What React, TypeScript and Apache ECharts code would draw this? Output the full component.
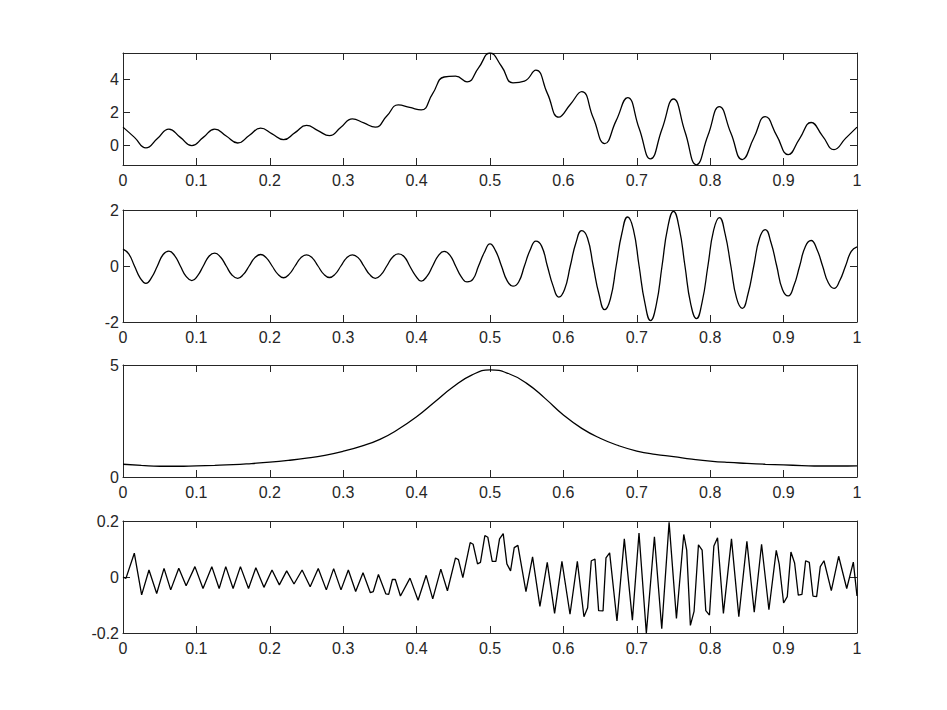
import React, { useEffect, useRef } from "react";
import * as echarts from "echarts";

// x tick labels
const X_TICKS = [0, 0.1, 0.2, 0.3, 0.4, 0.5, 0.6, 0.7, 0.8, 0.9, 1];

// Top panel: composite signal, sampled every 1/64
const SIG1 = [
  1.12, 0.5, -0.14, 0.43, 1.0, 0.5, 0.0, 0.5, 1.0, 0.58, 0.16, 0.61, 1.06, 0.71, 0.36, 0.79,
  1.22, 0.91, 0.6, 1.11, 1.62, 1.37, 1.12, 1.79, 2.46, 2.31, 2.16, 3.15, 4.15, 4.2, 3.86, 4.7,
  5.6, 4.8, 3.8, 3.9, 4.56, 3.16, 1.72, 2.49, 3.26, 1.69, 0.12, 1.51, 2.9, 1.05, -0.8, 1.01,
  2.82, 0.84, -1.16, 0.61, 2.36, 0.76, -0.84, 0.46, 1.76, 0.61, -0.54, 0.43, 1.4, 0.58, -0.24, 0.44,
  1.12,
];

// Second panel: modulated oscillation, sampled every 1/128
const SIG2 = [
  0.6, 0.43, 0, -0.43, -0.62, -0.41, 0, 0.41,
  0.53, 0.37, 0, -0.37, -0.52, -0.35, 0, 0.35,
  0.46, 0.32, 0, -0.32, -0.44, -0.3, 0, 0.3,
  0.41, 0.29, 0, -0.29, -0.42, -0.29, 0, 0.29,
  0.4, 0.29, 0, -0.29, -0.41, -0.29, 0, 0.29,
  0.4, 0.3, 0, -0.3, -0.44, -0.31, 0, 0.31,
  0.43, 0.34, 0, -0.34, -0.54, -0.37, 0, 0.37,
  0.52, 0.39, 0, -0.39, -0.57, -0.48, 0, 0.48,
  0.79, 0.53, 0, -0.53, -0.72, -0.57, 0, 0.57,
  0.89, 0.71, 0, -0.71, -1.11, -0.84, 0, 0.84,
  1.26, 1.0, 0, -1.0, -1.56, -1.17, 0, 1.17,
  1.75, 1.31, 0, -1.31, -1.95, -1.38, 0, 1.38,
  1.95, 1.35, 0, -1.35, -1.88, -1.28, 0, 1.28,
  1.73, 1.15, 0, -1.15, -1.51, -0.99, 0, 0.99,
  1.3, 0.84, 0, -0.84, -1.07, -0.7, 0, 0.7,
  0.91, 0.6, 0, -0.6, -0.8, -0.52, 0, 0.52,
  0.68,
];

// Third panel: peak, sampled every 0.025
const SIG3 = [
  0.57, 0.52, 0.48, 0.48, 0.5, 0.52, 0.55, 0.6, 0.66, 0.74, 0.84, 0.97, 1.15, 1.38, 1.68, 2.13,
  2.69, 3.36, 4.03, 4.55, 4.78, 4.62, 4.18, 3.51, 2.77, 2.17, 1.73, 1.4, 1.16, 1.01, 0.91, 0.8,
  0.71, 0.65, 0.61, 0.57, 0.54, 0.51, 0.49, 0.49, 0.5,
];

// Bottom panel: fast oscillation, vertices [t, value]
const SIG4: [number, number][] = [
  [0, 0.0], [0.004, -0.005], [0.0154, 0.085], [0.0254, -0.064], [0.0354, 0.025], [0.0459, -0.059],
  [0.0559, 0.031], [0.065, -0.046], [0.076, 0.031], [0.086, -0.031], [0.098, 0.037], [0.109, -0.041],
  [0.121, 0.037], [0.131, -0.041], [0.14, 0.037], [0.15, -0.041], [0.16, 0.037], [0.171, -0.041],
  [0.181, 0.033], [0.192, -0.037], [0.203, 0.025], [0.213, -0.028], [0.223, 0.022], [0.233, -0.025],
  [0.244, 0.025], [0.255, -0.035], [0.266, 0.03], [0.277, -0.046], [0.287, 0.03], [0.297, -0.046],
  [0.307, 0.025], [0.317, -0.052], [0.327, 0.015], [0.337, -0.056], [0.341, -0.052], [0.348, 0.009],
  [0.358, -0.06], [0.362, -0.062], [0.367, -0.009], [0.371, -0.009], [0.378, -0.068], [0.391, -0.004],
  [0.402, -0.083], [0.413, 0.006], [0.422, -0.078], [0.433, 0.028], [0.442, -0.049], [0.453, 0.068],
  [0.457, 0.062], [0.463, -0.002], [0.473, 0.123], [0.477, 0.117], [0.483, 0.047], [0.487, 0.052],
  [0.493, 0.148], [0.497, 0.142], [0.503, 0.056], [0.508, 0.056], [0.513, 0.136], [0.518, 0.155],
  [0.523, 0.047], [0.528, 0.022], [0.533, 0.105], [0.538, 0.113], [0.549, -0.052], [0.558, 0.072],
  [0.568, -0.105], [0.578, 0.052], [0.588, -0.13], [0.598, 0.056], [0.609, -0.133], [0.619, 0.056],
  [0.628, -0.142], [0.633, -0.11], [0.638, 0.058], [0.643, 0.064], [0.648, -0.12], [0.654, -0.121],
  [0.658, 0.068], [0.663, 0.086], [0.673, -0.157], [0.683, 0.136], [0.694, -0.154], [0.703, 0.157],
  [0.713, -0.201], [0.724, 0.144], [0.734, -0.185], [0.744, 0.195], [0.754, -0.148], [0.764, 0.152],
  [0.768, 0.096], [0.773, -0.173], [0.778, -0.123], [0.784, 0.115], [0.789, 0.096], [0.794, -0.12],
  [0.799, -0.136], [0.805, 0.111], [0.81, 0.14], [0.818, -0.13], [0.829, 0.136], [0.839, -0.142],
  [0.85, 0.127], [0.86, -0.126], [0.87, 0.117], [0.88, -0.117], [0.89, 0.095], [0.894, 0.046],
  [0.9, -0.093], [0.905, -0.07], [0.91, 0.089], [0.915, 0.05], [0.92, -0.065], [0.925, -0.062],
  [0.93, 0.058], [0.935, 0.052], [0.94, -0.068], [0.945, -0.07], [0.95, 0.037], [0.955, 0.058],
  [0.965, -0.049], [0.975, 0.074], [0.986, -0.041], [0.995, 0.053], [1.0, -0.068],
];

// y-axis ranges and tick values per panel
const Y_RANGES: [number, number][] = [[-1.17, 5.6], [-2, 2], [0, 5], [-0.2, 0.2]];
const Y_TICKS: number[][] = [[0, 2, 4], [-2, 0, 2], [0, 5], [-0.2, 0, 0.2]];

const AX = "#262626";
const FONT = "'Liberation Sans', Arial, Helvetica, sans-serif";

function fmt(v: number) {
  const r = Math.round(v * 10) / 10;
  return String(r);
}

export default function App() {
  const ref = useRef<HTMLDivElement>(null);
  useEffect(() => {
    if (!ref.current) return;
    const chart = echarts.init(ref.current, undefined, { renderer: "svg" });
    const tops = [53, 210, 365, 521];
    const grid = tops.map((t) => ({ left: 123, width: 734, top: t, height: 112, show: false }));
    const xAxis: any[] = [];
    const yAxis: any[] = [];
    tops.forEach((_, g) => {
      [true, false].forEach((main) => {
        xAxis.push({
          type: "value",
          gridIndex: g,
          min: 0,
          max: 1,
          interval: 0.1,
          position: main ? "bottom" : "top",
          axisLine: { show: true, onZero: false, lineStyle: { color: AX, width: 1 } },
          axisTick: { show: true, inside: true, length: 7, lineStyle: { color: AX, width: 1 }, customValues: X_TICKS },
          axisLabel: {
            show: main,
            margin: 7,
            color: AX,
            fontSize: 16,
            fontFamily: FONT,
            customValues: X_TICKS,
            formatter: (v: number) => fmt(v),
          },
          splitLine: { show: false },
        });
        yAxis.push({
          type: "value",
          gridIndex: g,
          min: Y_RANGES[g][0],
          max: Y_RANGES[g][1],
          position: main ? "left" : "right",
          axisLine: { show: true, onZero: false, lineStyle: { color: AX, width: 1 } },
          axisTick: { show: true, inside: true, length: 7, lineStyle: { color: AX, width: 1 }, customValues: Y_TICKS[g] },
          axisLabel: {
            show: main,
            margin: 4,
            color: AX,
            fontSize: 16,
            fontFamily: FONT,
            customValues: Y_TICKS[g],
            formatter: (v: number) => fmt(v),
          },
          splitLine: { show: false },
        });
      });
    });
    const line = (data: any[], g: number, smooth: boolean | number) => ({
      type: "line",
      xAxisIndex: g * 2,
      yAxisIndex: g * 2,
      data,
      smooth,
      symbol: "none",
      showSymbol: false,
      lineStyle: { color: "#000", width: 1.3 },
      z: 3,
    });
    const s1 = SIG1.map((v, i) => [i / 64, v]);
    const s2 = SIG2.map((v, i) => [i / 128, v]);
    const s3 = SIG3.map((v, i) => [i * 0.025, v]);
    chart.setOption({
      animation: false,
      backgroundColor: "#fff",
      grid,
      xAxis,
      yAxis,
      series: [line(s1, 0, 0.5), line(s2, 1, 0.5), line(s3, 2, 0.5), line(SIG4, 3, false)],
    });
    return () => chart.dispose();
  }, []);
  return (
    <div
      ref={ref}
      style={{ position: "fixed", left: 0, top: 0, width: 947, height: 710, background: "#fff" }}
    />
  );
}
